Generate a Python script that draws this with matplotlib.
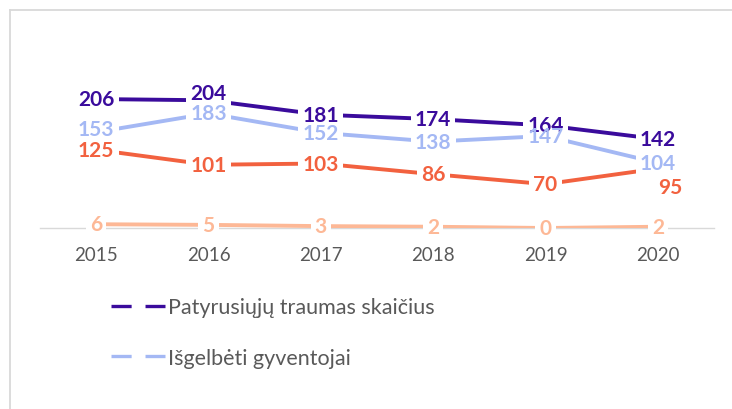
import numpy as np
import matplotlib
matplotlib.use("Agg")
import matplotlib.pyplot as plt
from matplotlib.lines import Line2D

plt.rcParams['font.family'] = ['Lato', 'DejaVu Sans']
plt.rcParams['lines.scale_dashes'] = False

# data
years = ["2015", "2016", "2017", "2018", "2019", "2020"]
injured = [206, 204, 181, 174, 164, 142]      # Patyrusiųjų traumas skaičius
rescued = [153, 183, 152, 138, 147, 104]      # Išgelbėti gyventojai
series3 = [125, 101, 103, 86, 70, 95]
series4 = [6, 5, 3, 2, 0, 2]
legend_names = ["Patyrusiųjų traumas skaičius", "Išgelbėti gyventojai"]

c_purple = "#3a0b9c"
c_blue = "#a4b8f4"
c_red = "#f2613f"
c_peach = "#fdb896"
grey_txt = "#595959"

fig = plt.figure(figsize=(7.32, 4.10), dpi=100)
# chart border (cropped at right/bottom)
fig.add_artist(plt.Line2D([9.5/732, 9.5/732], [0, 1 - 11/410], color="#d9d9d9", lw=1.3))
fig.add_artist(plt.Line2D([9.5/732, 1], [1 - 11/410, 1 - 11/410], color="#d9d9d9", lw=1.3))

ax = fig.add_axes([40/732, (410-229)/410, 674/732, 156.5/410])
x = np.arange(len(years))

all_series = [injured, rescued, series3, series4]
colors = [c_purple, c_blue, c_red, c_peach]

for vals, col in zip(all_series, colors):
    ax.plot(x, vals, color=col, lw=2.8, solid_capstyle="butt", zorder=2)

# data labels: white box first, text on top
offsets = {(0, 1): (0, 7), (1, 0): (0, 3), (2, 5): (12, -18)}
for si, (vals, col) in enumerate(zip(all_series, colors)):
    for i, v in enumerate(vals):
        dx, dy = offsets.get((si, i), (0, 0))
        for z, box in ((3, True), (4, False)):
            ax.annotate(str(v), (x[i], v), xytext=(dx * 0.72, dy * 0.72),
                        textcoords="offset points", ha="center", va="center",
                        fontsize=15, fontweight="bold",
                        color=("white" if box else col), alpha=(0 if box else 1),
                        bbox=(dict(boxstyle="square,pad=0.2", fc="white", ec="none") if box else None),
                        zorder=z)

ax.set_xlim(-0.5, len(years) - 0.5)
ax.set_ylim(0, 250)
ax.set_xticks(x)
ax.set_xticklabels(years)
ax.tick_params(axis="x", length=0, labelsize=13.5, colors=grey_txt, pad=13)
ax.set_yticks([])
for s in ["top", "right", "left"]:
    ax.spines[s].set_visible(False)
ax.spines["bottom"].set_color("#d9d9d9")
ax.spines["bottom"].set_linewidth(1.0)
ax.spines["bottom"].set_zorder(1)

handles = [Line2D([0], [0], color=c, lw=2.4, dashes=(14.5, 10)) for c in [c_purple, c_blue]]
leg = fig.legend(handles, legend_names, loc="upper left", bbox_to_anchor=(92/732, 1 - 279/410),
                 frameon=False, fontsize=15.5, handlelength=2.5, handletextpad=0.15,
                 labelspacing=1.4, labelcolor=grey_txt)

fig.savefig("out.png", dpi=100)
